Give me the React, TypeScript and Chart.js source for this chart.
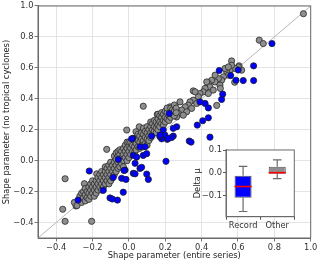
import React, { useEffect, useRef } from "react";
import { Chart, registerables } from "chart.js";
Chart.register(...registerables);

// ---- main scatter data ----
const otherX = [
  0.96, 0.717, 0.739, 0.565, 0.606, 0.62, 0.582, 0.483, 0.354, 0.226, 0.079, 0.156, -0.012, 0.057, 0.039, -0.122, -0.351, -0.245, -0.177, -0.364, -0.351, -0.205, -0.291,
  0.602, 0.584, 0.556, 0.565, 0.538, 0.529, 0.547, 0.547, 0.52, 0.51, 0.492, 0.474, 0.455, 0.437, 0.428, 0.446, 0.419, 0.409, 0.391, 0.382, 0.364, 0.354, 0.336, 0.327, 0.309, 0.29, 0.272, 0.281, 0.474, 0.501, 0.464, 0.437, 0.373, 0.345, 0.318, 0.299, 0.263, 0.503,
  -0.30, -0.285, -0.27, -0.27, -0.26, -0.26, -0.25, -0.25, -0.24, -0.24, -0.24, -0.23, -0.23, -0.22, -0.22, -0.22, -0.21, -0.21, -0.21, -0.20, -0.20, -0.20,
  -0.19, -0.19, -0.19, -0.18, -0.18, -0.18, -0.17, -0.17, -0.17, -0.16, -0.16, -0.16, -0.15, -0.15, -0.15, -0.15, -0.14, -0.14, -0.14, -0.13, -0.13, -0.13, -0.13,
  -0.12, -0.12, -0.12, -0.11, -0.11, -0.11, -0.11, -0.10, -0.10, -0.10, -0.10, -0.09, -0.09, -0.09, -0.08, -0.08, -0.08, -0.08, -0.07, -0.07, -0.07, -0.07,
  -0.06, -0.06, -0.06, -0.06, -0.05, -0.05, -0.05, -0.05, -0.04, -0.04, -0.04, -0.03, -0.03, -0.03, -0.03, -0.02, -0.02, -0.02, -0.01, -0.01, -0.01, -0.01,
  0.00, 0.00, 0.00, 0.00, 0.01, 0.01, 0.01, 0.02, 0.02, 0.02, 0.03, 0.03, 0.03, 0.04, 0.04, 0.04, 0.05, 0.05, 0.05, 0.06, 0.06, 0.06, 0.07, 0.07, 0.07,
  0.08, 0.08, 0.08, 0.08, 0.09, 0.09, 0.09, 0.10, 0.10, 0.10, 0.10, 0.11, 0.11, 0.11, 0.12, 0.12, 0.12, 0.12, 0.13, 0.13, 0.13, 0.14, 0.14, 0.14,
  0.15, 0.15, 0.15, 0.16, 0.16, 0.16, 0.16, 0.17, 0.17, 0.17, 0.18, 0.18, 0.18, 0.19, 0.19, 0.19, 0.20, 0.20, 0.20, 0.21, 0.21, 0.21, 0.22, 0.22,
  0.23, 0.23, 0.23, 0.24, 0.24, 0.25, 0.25, 0.25, 0.26, 0.26,
];
const otherY = [
  0.95, 0.779, 0.757, 0.645, 0.613, 0.585, 0.507, 0.357, 0.451, 0.348, 0.352, 0.299, 0.198, 0.219, 0.187, 0.073, -0.117, -0.149, -0.085, -0.314, -0.392, -0.392, -0.293,
  0.606, 0.596, 0.585, 0.617, 0.574, 0.596, 0.606, 0.553, 0.542, 0.52, 0.531, 0.509, 0.52, 0.499, 0.509, 0.477, 0.467, 0.445, 0.434, 0.413, 0.445, 0.391, 0.38, 0.359, 0.348, 0.327, 0.305, 0.38, 0.553, 0.489, 0.456, 0.434, 0.37, 0.338, 0.316, 0.294, 0.283, 0.467,
  -0.27, -0.29, -0.25, -0.23, -0.27, -0.21, -0.24, -0.20, -0.22, -0.18, -0.26, -0.20, -0.24, -0.17, -0.21, -0.25, -0.19, -0.15, -0.23, -0.17, -0.21, -0.13,
  -0.15, -0.19, -0.23, -0.13, -0.17, -0.21, -0.11, -0.15, -0.19, -0.13, -0.17, -0.09, -0.11, -0.15, -0.07, -0.19, -0.09, -0.13, -0.17, -0.07, -0.11, -0.15, -0.04,
  -0.09, -0.05, -0.13, -0.07, -0.03, -0.11, -0.15, -0.05, -0.09, -0.01, -0.13, -0.03, -0.07, -0.11, -0.01, -0.05, 0.03, -0.09, 0.01, -0.03, 0.05, -0.07,
  0.03, -0.01, 0.06, -0.05, 0.04, 0.00, -0.04, 0.07, 0.02, 0.06, -0.02, 0.04, 0.08, 0.00, -0.04, 0.06, 0.02, 0.10, 0.08, 0.04, 0.00, 0.12,
  0.06, 0.10, 0.02, 0.12, 0.08, 0.12, 0.04, 0.10, 0.06, 0.14, 0.09, 0.13, 0.05, 0.11, 0.07, 0.15, 0.13, 0.09, 0.17, 0.12, 0.16, 0.08, 0.14, 0.10, 0.18,
  0.13, 0.17, 0.09, 0.21, 0.15, 0.19, 0.11, 0.14, 0.18, 0.22, 0.10, 0.16, 0.20, 0.13, 0.18, 0.22, 0.15, 0.25, 0.20, 0.24, 0.17, 0.22, 0.19, 0.26,
  0.21, 0.25, 0.18, 0.23, 0.27, 0.20, 0.30, 0.25, 0.29, 0.22, 0.24, 0.28, 0.31, 0.26, 0.30, 0.23, 0.28, 0.32, 0.25, 0.27, 0.31, 0.34, 0.29, 0.26,
  0.31, 0.28, 0.34, 0.30, 0.33, 0.32, 0.29, 0.36, 0.34, 0.31,
];
const recordX = [
  0.787, 0.497, 0.686, 0.601, 0.56, 0.589, 0.629, 0.686, 0.516, 0.51, 0.437, 0.419, 0.391, 0.437, 0.406, 0.376, 0.446, 0.332, 0.342, 0.244, 0.211, 0.18, 0.204,
  0.222, 0.263, 0.244, 0.189, 0.198, 0.125, 0.171, 0.235, 0.171, 0.217, 0.061, 0.089, 0.021, 0.015, 0.079, 0.098, 0.024, 0.043, -0.058, 0.034, -0.021, 0.024,
  0.061, 0.07, 0.098, 0.107, -0.04, -0.016, -0.086, -0.027, 0.034, -0.218, -0.141, -0.104, -0.091, -0.063, -0.031, -0.28,
];
const recordY = [
  0.757, 0.583, 0.613, 0.586, 0.55, 0.52, 0.518, 0.518, 0.43, 0.396, 0.341, 0.37, 0.38, 0.277, 0.258, 0.23, 0.152, 0.127, 0.12, 0.159, 0.138, 0.141, -0.004,
  0.305, 0.219, 0.209, 0.198, 0.165, 0.159, 0.154, 0.15, 0.165, 0.144, 0.09, 0.09, 0.144, 0.141, 0.034, 0.045, 0.034, 0.023, 0.008, -0.017, -0.061, -0.082,
  -0.05, -0.043, -0.087, -0.121, -0.114, -0.121, -0.108, -0.063, -0.085, -0.067, -0.192, -0.241, -0.248, -0.255, -0.204, -0.255,
];
const diagonal = [-0.5, 1.0];
const mainTicks = [-0.4, -0.2, 0.0, 0.2, 0.4, 0.6, 0.8, 1.0];

// ---- inset boxplot data ----
const insetCategories = ["Record", "Other"];
const boxQ1 = [-0.109, -0.004];
const boxQ3 = [-0.013, 0.027];
const boxMedian = [-0.06, 0.001];
const whiskerLow = [-0.17, -0.025];
const whiskerHigh = [0.029, 0.057];
const insetTicks = [-0.1, 0.0, 0.1];

const FONT = "'DejaVu Sans', sans-serif";
const FS = 8.3;
const fmt = (v: number) => {
  const r = Math.round(v * 10) / 10;
  if (Math.abs(r) < 1e-9) return "0.0";
  return (r < 0 ? "\u2212" : "") + Math.abs(r).toFixed(1);
};

const framePlugin = {
  id: "frame",
  afterDraw(chart: any) {
    const { ctx, chartArea: a } = chart;
    ctx.save();
    ctx.strokeStyle = "#6a6a6a";
    ctx.lineWidth = 1;
    ctx.strokeRect(a.left, a.top, a.right - a.left, a.bottom - a.top);
    ctx.restore();
  },
};

const whiteAreaPlugin = {
  id: "whiteArea",
  beforeDraw(chart: any) {
    const { ctx, chartArea: a } = chart;
    ctx.save();
    ctx.fillStyle = "#ffffff";
    ctx.fillRect(a.left, a.top, a.right - a.left, a.bottom - a.top);
    ctx.restore();
  },
};

const whiskerPlugin = {
  id: "whiskers",
  afterDatasetsDraw(chart: any) {
    const { ctx } = chart;
    const y = chart.scales.y;
    const meta = chart.getDatasetMeta(0);
    meta.data.forEach((bar: any, i: number) => {
      const { x: cx, width: w } = bar.getProps(["x", "width"], true);
      ctx.save();
      ctx.strokeStyle = "#6a6a6a";
      ctx.lineWidth = 1.2;
      ctx.beginPath();
      ctx.moveTo(cx, y.getPixelForValue(boxQ3[i]));
      ctx.lineTo(cx, y.getPixelForValue(whiskerHigh[i]));
      ctx.moveTo(cx, y.getPixelForValue(boxQ1[i]));
      ctx.lineTo(cx, y.getPixelForValue(whiskerLow[i]));
      ctx.moveTo(cx - w / 4, y.getPixelForValue(whiskerHigh[i]));
      ctx.lineTo(cx + w / 4, y.getPixelForValue(whiskerHigh[i]));
      ctx.moveTo(cx - w / 4, y.getPixelForValue(whiskerLow[i]));
      ctx.lineTo(cx + w / 4, y.getPixelForValue(whiskerLow[i]));
      ctx.stroke();
      ctx.strokeStyle = "#ff0000";
      ctx.lineWidth = 1.6;
      ctx.beginPath();
      ctx.moveTo(cx - w / 2, y.getPixelForValue(boxMedian[i]));
      ctx.lineTo(cx + w / 2, y.getPixelForValue(boxMedian[i]));
      ctx.stroke();
      ctx.restore();
    });
  },
};

export default function App() {
  const mainRef = useRef<HTMLCanvasElement>(null);
  const insetRef = useRef<HTMLCanvasElement>(null);

  useEffect(() => {
    const tickFont = { family: FONT, size: FS };
    const main = new Chart(mainRef.current as HTMLCanvasElement, {
      type: "scatter",
      data: {
        datasets: [
          {
            label: "Record",
            data: recordX.map((x, i) => ({ x, y: recordY[i] })),
            backgroundColor: "#0000ff",
            borderColor: "#1a1a2a",
            borderWidth: 0.8,
            pointRadius: 3.1,
            order: 0,
          },
          {
            label: "Other",
            data: otherX.map((x, i) => ({ x, y: otherY[i] })),
            backgroundColor: "#8e8e8e",
            borderColor: "#2a2a2a",
            borderWidth: 0.8,
            pointRadius: 3.1,
            order: 1,
          },
          {
            type: "line",
            label: "1:1",
            data: diagonal.map((v) => ({ x: v, y: v })),
            borderColor: "#b8b8b8",
            borderWidth: 1,
            pointRadius: 0,
            order: 2,
          } as any,
        ],
      },
      options: {
        responsive: false,
        animation: false,
        layout: { padding: { top: 5.7, right: 9.3, left: 0, bottom: 0 } },
        plugins: { legend: { display: false }, tooltip: { enabled: false } },
        scales: {
          x: {
            type: "linear",
            min: -0.5,
            max: 1.0,
            afterBuildTicks: (s: any) => {
              s.ticks = mainTicks.map((v) => ({ value: v }));
            },
            afterFit: (s: any) => {
              s.height = 26;
            },
            ticks: { font: tickFont, color: "#333", callback: (v: any) => fmt(Number(v)), padding: 1, maxRotation: 0, autoSkip: false },
            grid: { color: "#dddddd", lineWidth: 0.8, tickColor: "#555", tickLength: 3.5 },
            border: { display: true, color: "#6a6a6a" },
            title: { display: true, text: "Shape parameter (entire series)", font: { family: FONT, size: FS }, color: "#222", padding: { top: 0, bottom: 3 } },
          },
          y: {
            type: "linear",
            min: -0.5,
            max: 1.0,
            afterBuildTicks: (s: any) => {
              s.ticks = mainTicks.map((v) => ({ value: v }));
            },
            afterFit: (s: any) => {
              s.width = 38;
            },
            ticks: { font: tickFont, color: "#333", callback: (v: any) => fmt(Number(v)), padding: 1, autoSkip: false },
            grid: { color: "#dddddd", lineWidth: 0.8, tickColor: "#555", tickLength: 3.5 },
            border: { display: true, color: "#6a6a6a" },
            title: { display: true, text: "Shape parameter (no tropical cyclones)", font: { family: FONT, size: FS }, color: "#222", padding: { top: 1.6, bottom: 0 } },
          },
        },
      },
      plugins: [framePlugin],
    } as any);

    const inset = new Chart(insetRef.current as HTMLCanvasElement, {
      type: "bar",
      data: {
        labels: insetCategories,
        datasets: [
          {
            label: "box",
            data: boxQ1.map((q, i) => [q, boxQ3[i]]),
            backgroundColor: ["#0000ff", "#8e8e8e"],
            borderColor: "#555",
            borderWidth: 1,
            borderSkipped: false,
            barPercentage: 0.5,
            categoryPercentage: 1.0,
          } as any,
        ],
      },
      options: {
        responsive: false,
        animation: false,
        layout: { padding: { top: 5, right: 5.7, left: 0, bottom: 0 } },
        plugins: { legend: { display: false }, tooltip: { enabled: false } },
        scales: {
          x: {
            type: "category",
            afterFit: (s: any) => {
              s.height = 19.3;
            },
            ticks: { font: tickFont, color: "#333", padding: 1, maxRotation: 0 },
            grid: { drawOnChartArea: false, tickColor: "#555", tickLength: 3 },
            border: { display: true, color: "#6a6a6a" },
          },
          y: {
            type: "linear",
            min: -0.193,
            max: 0.101,
            afterBuildTicks: (s: any) => {
              s.ticks = insetTicks.map((v) => ({ value: v }));
            },
            afterFit: (s: any) => {
              s.width = 36;
            },
            ticks: { font: tickFont, color: "#333", callback: (v: any) => fmt(Number(v)), padding: 1 },
            grid: { drawOnChartArea: false, tickColor: "#555", tickLength: 3 },
            border: { display: true, color: "#6a6a6a" },
            title: { display: true, text: "Delta \u03bc", font: { family: FONT, size: FS }, color: "#222", padding: { top: 3, bottom: 0 } },
          },
        },
      },
      plugins: [whiteAreaPlugin, whiskerPlugin, framePlugin],
    } as any);

    return () => {
      main.destroy();
      inset.destroy();
    };
  }, []);

  return (
    <div style={{ position: "absolute", left: 0, top: 0, width: 320, height: 264, background: "#fff" }}>
      <canvas ref={mainRef} width={320} height={264} style={{ position: "absolute", left: 0, top: 0 }} />
      <canvas ref={insetRef} width={110} height={92} style={{ position: "absolute", left: 190, top: 144 }} />
    </div>
  );
}
